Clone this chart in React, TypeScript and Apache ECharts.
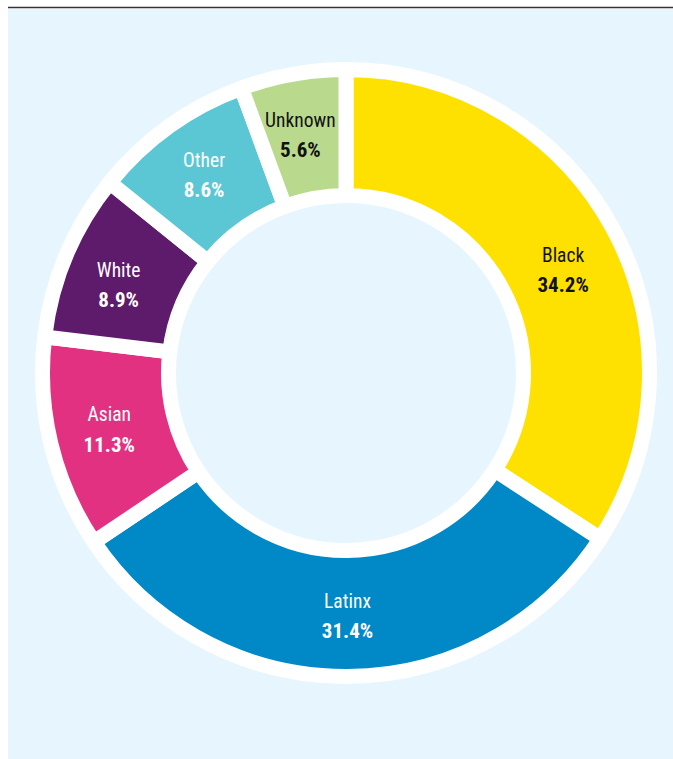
import React, { useEffect, useRef } from "react";
import * as echarts from "echarts";

const categories = ["Black", "Latinx", "Asian", "White", "Other", "Unknown"];
const values = [34.2, 31.4, 11.3, 8.9, 8.6, 5.6];
const sliceColors = ["#FFE100", "#0089C6", "#E33181", "#5E1A6B", "#5BC7D5", "#B9DA8C"];
const labelColors = ["#111111", "#FFFFFF", "#FFFFFF", "#FFFFFF", "#FFFFFF", "#111111"];

const FONT =
  "'Roboto Condensed', 'Noto Sans Condensed', 'Open Sans Condensed', 'DejaVu Sans Condensed', sans-serif";

// small label nudges (px) so labels sit where the reference puts them
const labelNudges: Record<string, [number, number]> = {
  Black: [3, 13],
  White: [-3, 7],
  Unknown: [-3, 2],
};

export default function App() {
  const ref = useRef<HTMLDivElement>(null);
  useEffect(() => {
    if (!ref.current) return;
    const chart = echarts.init(ref.current, null, { renderer: "svg" });
    const data = categories.map((name, i) => ({
      name,
      value: values[i],
      itemStyle: { color: sliceColors[i] },
      label: { color: labelColors[i], offset: labelNudges[name] || [0, 0] },
    }));
    chart.setOption({
      animation: false,
      backgroundColor: "#FFFFFF",
      graphic: [
        {
          type: "rect",
          silent: true,
          z: -10,
          shape: { x: 8, y: 9, width: 665, height: 750 },
          style: { fill: "#E7F6FE" },
        },
        {
          type: "line",
          silent: true,
          z: -10,
          shape: { x1: 8, y1: 7.5, x2: 673, y2: 7.5 },
          style: { stroke: "#333333", lineWidth: 1.5 },
        },
      ],
      series: [
        {
          type: "pie",
          center: [346, 373],
          radius: [177.5, 303.5],
          startAngle: 90,
          clockwise: true,
          avoidLabelOverlap: false,
          silent: true,
          emphasis: { disabled: true },
          itemStyle: { borderColor: "#FFFFFF", borderWidth: 15, borderJoin: "round" },
          label: {
            show: true,
            position: "inside",
            fontFamily: FONT,
            formatter: "{n|{b}}\n{v|{c}%}",
            rich: {
              n: { fontSize: 19.5, lineHeight: 30, fontFamily: FONT },
              v: { fontSize: 21, lineHeight: 30, fontWeight: "bold", fontFamily: FONT },
            },
          },
          labelLine: { show: false },
          data,
        },
      ],
    });
    return () => chart.dispose();
  }, []);
  return (
    <div
      ref={ref}
      style={{ position: "absolute", left: 0, top: 0, width: 673, height: 759 }}
    />
  );
}
